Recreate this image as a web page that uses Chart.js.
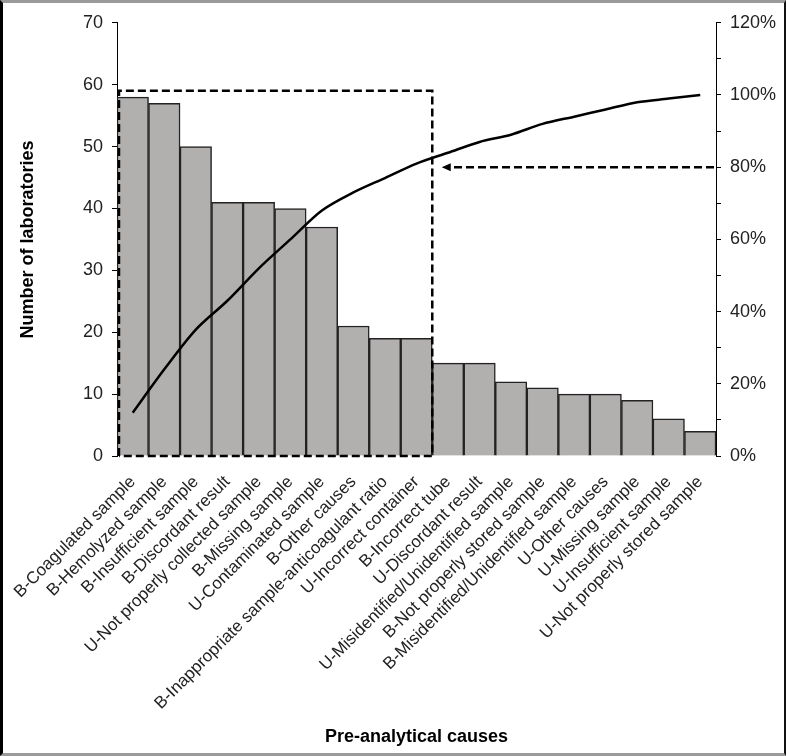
<!DOCTYPE html>
<html lang="en">
<head>
    <meta charset="UTF-8">
    <title>pre-analytical causes pareto</title>
    <script src="https://cdn.jsdelivr.net/npm/chart.js"></script>
    <style>
      html, body { margin: 0; padding: 0; background: #fff; }
      #frame {
        width: 786px; height: 756px; box-sizing: border-box;
        border-left: 3px solid #000; border-top: 3px solid #9a9a9a;
        border-right: 2px solid #111; border-bottom: 3px solid #9a9a9a;
      }
    </style>
</head>
<body>
    <div id="frame">
        <canvas id="myChart" width="781" height="750"></canvas>
    </div>

<script>

// data
const causes = [
  'B-Coagulated sample',
  'B-Hemolyzed sample',
  'B-Insufficient sample',
  'B-Discordant result',
  'U-Not properly collected sample',
  'B-Missing sample',
  'U-Contaminated sample',
  'B-Other causes',
  'B-Inappropriate sample-anticoagulant ratio',
  'U-Incorrect container',
  'B-Incorrect tube',
  'U-Discordant result',
  'U-Misidentified/Unidentified sample',
  'B-Not properly stored sample',
  'B-Misidentified/Unidentified sample',
  'U-Other causes',
  'U-Missing sample',
  'U-Insufficient sample',
  'U-Not properly stored sample'
];
const laboratories = [58, 57, 50, 41, 41, 40, 37, 21, 19, 19, 15, 15, 12, 11, 10, 10, 9, 6, 4];
const cumulativePct = [12, 24, 35, 43, 52, 60, 68, 73, 77, 81, 84, 87, 89, 92, 94, 96, 98, 99, 100];

// dashed box around the "vital few" and the 80% arrow
const boxTop = 59;        // on the left axis
const boxEndIndex = 9.5;  // between category 10 and 11
const arrowPct = 80;      // on the right axis
const arrowTipIndex = 9.8;

const font = "'Liberation Sans', Arial, sans-serif";
const ink = '#222';

const paretoMarks = {
  id: 'paretoMarks',
  afterDatasetsDraw(chart) {
    const ctx = chart.ctx;
    const x = chart.scales.x, y = chart.scales.y, y1 = chart.scales.y1;
    const area = chart.chartArea;

    ctx.save();
    ctx.strokeStyle = '#000';
    ctx.lineWidth = 2.5;
    ctx.setLineDash([8, 4]);

    // box
    const left = area.left + 2;
    const right = x.getPixelForValue(boxEndIndex);
    const top = y.getPixelForValue(boxTop);
    const bottom = y.getPixelForValue(0);
    ctx.beginPath();
    ctx.moveTo(left, bottom);
    ctx.lineTo(left, top);
    ctx.lineTo(right, top);
    ctx.lineTo(right, bottom);
    ctx.lineTo(left, bottom);
    ctx.stroke();

    // arrow
    const ay = y1.getPixelForValue(arrowPct);
    const tip = x.getPixelForValue(arrowTipIndex);
    ctx.beginPath();
    ctx.moveTo(area.right - 2, ay);
    ctx.lineTo(tip + 8, ay);
    ctx.stroke();
    ctx.setLineDash([]);
    ctx.fillStyle = '#000';
    ctx.beginPath();
    ctx.moveTo(tip, ay);
    ctx.lineTo(tip + 9, ay - 4);
    ctx.lineTo(tip + 9, ay + 4);
    ctx.closePath();
    ctx.fill();
    ctx.restore();
  }
};

const data = {
  labels: causes,
  datasets: [
    {
      type: 'line',
      label: 'Cumulative %',
      data: cumulativePct,
      yAxisID: 'y1',
      borderColor: '#000',
      borderWidth: 2.5,
      pointRadius: 0,
      tension: 0.3,
      fill: false,
      order: 0
    },
    {
      type: 'bar',
      label: 'Number of laboratories',
      data: laboratories,
      yAxisID: 'y',
      backgroundColor: '#b2afaf',
      borderColor: '#222',
      borderWidth: 1.5,
      categoryPercentage: 1,
      barPercentage: 1,
      order: 1
    }
  ]
};

const config = {
  data: data,
  options: {
    responsive: false,
    animation: false,
    layout: { padding: { top: 19, left: 0, right: 0, bottom: 0 } },
    plugins: { legend: { display: false }, tooltip: { enabled: false } },
    scales: {
      x: {
        grid: { display: false },
        border: { display: false },
        ticks: {
          autoSkip: false, minRotation: 45, maxRotation: 45, padding: 8,
          color: ink, font: { family: font, size: 17 }
        },
        title: {
          display: true, text: 'Pre-analytical causes', color: '#000',
          font: { family: font, size: 18, weight: 'bold' },
          padding: { top: 0, bottom: 5 }
        },
        afterFit: (s) => { s.height = 297; }
      },
      y: {
        position: 'left',
        min: 0, max: 70,
        grid: { drawOnChartArea: false, color: '#000', tickLength: 5 },
        border: { color: '#000', width: 1 },
        ticks: { stepSize: 10, padding: 9, color: ink, font: { family: font, size: 18 } },
        title: {
          display: true, text: 'Number of laboratories', color: '#000',
          font: { family: font, size: 18, weight: 'bold' },
          padding: { top: 14, bottom: 0 }
        },
        afterFit: (s) => { s.width = 114; }
      },
      y1: {
        position: 'right',
        min: 0, max: 120,
        grid: { drawOnChartArea: false, color: '#000', tickLength: 5 },
        border: { color: '#000', width: 1 },
        ticks: {
          stepSize: 10, padding: 9, color: ink, font: { family: font, size: 18 },
          callback: (v) => (v % 20 === 0 ? v + '%' : '')
        },
        afterFit: (s) => { s.width = 68; }
      }
    }
  },
  plugins: [paretoMarks]
};

const myChart = new Chart(document.getElementById('myChart'), config);
</script>
</body>
</html>
